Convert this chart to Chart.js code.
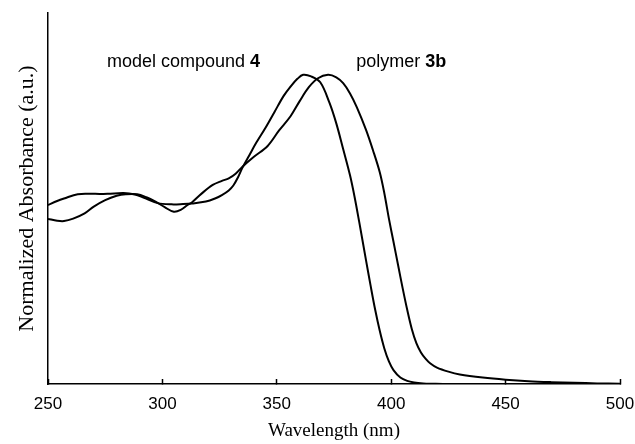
<!DOCTYPE html>
<html>
<head>
<meta charset="utf-8">
<script src="https://cdn.jsdelivr.net/npm/chart.js@4/dist/chart.umd.min.js"></script>
<style>
  html, body { margin: 0; padding: 0; background: #fff; }
  #wrap { width: 635px; height: 444px; position: relative; }
</style>
</head>
<body>
<div id="wrap"><canvas id="absChart"></canvas></div>
<script>
// ---- data ----
const xTicks = [250, 300, 350, 400, 450, 500];

const modelWl  = [250, 254, 257, 263, 270, 276, 283, 288, 292, 298, 304, 309, 313, 319, 323, 326, 329, 331, 333, 335, 338, 341, 345, 349, 353, 356, 359, 361.5, 365, 369, 373, 376, 379, 382, 384, 386, 389, 391, 393, 395, 397, 399, 401, 404, 407, 410, 414, 418, 425, 500];
const modelAbs = [0.579, 0.592, 0.600, 0.614, 0.615, 0.615, 0.618, 0.613, 0.602, 0.585, 0.581, 0.582, 0.584, 0.590, 0.600, 0.611, 0.626, 0.642, 0.668, 0.700, 0.740, 0.780, 0.828, 0.880, 0.932, 0.962, 0.987, 1.000, 0.995, 0.976, 0.910, 0.843, 0.760, 0.675, 0.605, 0.525, 0.400, 0.318, 0.240, 0.172, 0.115, 0.073, 0.045, 0.021, 0.010, 0.005, 0.002, 0.001, 0, 0];

const polyWl  = [250, 254, 257, 261, 266, 270, 275, 280, 284, 289, 293, 297, 301, 305, 308, 311, 313, 317, 322, 326, 329, 332, 335, 340, 346, 351, 356, 360, 364, 368, 372.4, 376, 379, 382, 385, 389, 392, 395, 397, 399, 401, 403, 405, 407, 409, 411, 413, 415, 417, 420, 425, 430, 440, 450, 460, 470, 480, 490, 500];
const polyAbs = [0.534, 0.528, 0.527, 0.535, 0.552, 0.574, 0.595, 0.609, 0.614, 0.614, 0.604, 0.590, 0.572, 0.557, 0.563, 0.579, 0.588, 0.615, 0.644, 0.657, 0.665, 0.680, 0.703, 0.735, 0.770, 0.820, 0.866, 0.915, 0.960, 0.989, 1.000, 0.992, 0.973, 0.940, 0.895, 0.822, 0.757, 0.685, 0.617, 0.535, 0.460, 0.385, 0.310, 0.240, 0.178, 0.132, 0.102, 0.082, 0.067, 0.053, 0.040, 0.031, 0.021, 0.014, 0.009, 0.006, 0.004, 0.002, 0.001];

// where the two curve names sit (data coords)
const labelModel = {x: 275.8, y: 1.025, text: 'model compound ', bold: '4'};
const labelPoly  = {x: 384.7, y: 1.025, text: 'polymer ', bold: '3b'};

const SANS = "'Liberation Sans', Arial, sans-serif";
const SERIF = "'Liberation Serif', 'Times New Roman', serif";

const toPts = (xs, ys) => xs.map((x, i) => ({x, y: ys[i]}));

// draws the two inline curve labels
const curveLabels = {
  id: 'curveLabels',
  afterDatasetsDraw(chart) {
    const {ctx, scales: {x, y}} = chart;
    ctx.save();
    ctx.fillStyle = '#000';
    ctx.textBaseline = 'alphabetic';
    [labelModel, labelPoly].forEach(l => {
      let px = x.getPixelForValue(l.x);
      const py = y.getPixelForValue(l.y);
      ctx.font = '18px ' + SANS;
      ctx.fillText(l.text, px, py);
      px += ctx.measureText(l.text).width;
      ctx.font = 'bold 18px ' + SANS;
      ctx.fillText(l.bold, px, py);
    });
    ctx.restore();
  }
};

const lineStyle = {
  borderColor: '#000',
  borderWidth: 2,
  pointRadius: 0,
  fill: false,
  tension: 0.35
};

new Chart(document.getElementById('absChart'), {
  type: 'line',
  data: {
    datasets: [
      Object.assign({label: 'model compound 4', data: toPts(modelWl, modelAbs)}, lineStyle),
      Object.assign({label: 'polymer 3b', data: toPts(polyWl, polyAbs)}, lineStyle)
    ]
  },
  options: {
    responsive: true,
    maintainAspectRatio: false,
    animation: false,
    layout: {padding: {top: 13, right: 15, left: 0, bottom: 0}},
    plugins: {legend: {display: false}, tooltip: {enabled: false}},
    scales: {
      x: {
        type: 'linear',
        min: 250, max: 500,
        afterBuildTicks: s => { s.ticks = xTicks.map(v => ({value: v})); },
        afterFit: s => { s.height = 60; s.paddingLeft = 0; s.paddingRight = 0; },
        border: {display: true, color: '#000', width: 1.5},
        grid: {drawOnChartArea: false, drawTicks: true, tickLength: -5, tickColor: '#000', tickWidth: 1.5},
        ticks: {padding: 15, color: '#000', font: {family: SANS, size: 17}, maxRotation: 0},
        title: {display: true, text: 'Wavelength (nm)', color: '#000',
                font: {family: SERIF, size: 19, lineHeight: 1}, padding: {top: 0, bottom: 3}}
      },
      y: {
        min: 0, max: 1.2,
        afterFit: s => { s.width = 48; },
        border: {display: true, color: '#000', width: 1.5},
        grid: {display: false, drawTicks: false},
        ticks: {display: false},
        title: {display: true, text: 'Normalized Absorbance (a.u.)', color: '#000',
                font: {family: SERIF, size: 22, lineHeight: 1}, padding: {top: 16, bottom: 0}}
      }
    }
  },
  plugins: [curveLabels]
});
</script>
</body>
</html>
